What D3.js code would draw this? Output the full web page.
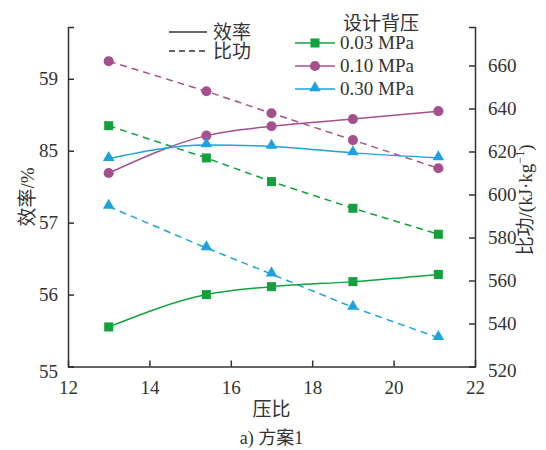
<!DOCTYPE html>
<head>
  <meta charset="utf-8" />
  <script src="https://d3js.org/d3.v7.min.js"></script>
  <style>
    body { margin: 0; background: #fff; }
    text { font-family: "Liberation Serif", "Noto Sans CJK SC", serif; fill: #333; }
  </style>
</head>
<body>
  <div id="chart"></div>
  <script>
    // donnees
    const pressureRatio = [13, 15.4, 17, 19, 21.1];
    const backPressures = ["0.03 MPa", "0.10 MPa", "0.30 MPa"];
    const efficiency003 = [55.55, 56.0, 56.11, 56.18, 56.28];
    const efficiency010 = [57.69, 58.21, 58.34, 58.44, 58.55];
    const efficiency030 = [57.89, 58.08, 58.06, 57.97, 57.90];
    const work003 = [632, 617, 606, 593.6, 581.5];
    const work010 = [662, 648, 637.8, 625.3, 612.2];
    const work030 = [594.4, 575.1, 563, 547.5, 533.4];
    const xTicks = [12, 14, 16, 18, 20, 22];
    const leftTicks = [55, 56, 57, 58, 59];
    const leftTickLabels = ["55", "56", "57", "85", "59"];
    const rightTicks = [520, 540, 560, 580, 600, 620, 640, 660];

    const width = 546, height = 450;
    const colors = ["#15a03e", "#a4508c", "#1ca3dd"];
    const symbols = [d3.symbolSquare, d3.symbolCircle, d3.symbolTriangle];
    const symSizes = [82, 80, 58];

    const svg = d3.select("#chart").append("svg")
      .attr("width", width)
      .attr("height", height);

    const x = d3.scaleLinear().domain([12, 22]).range([68, 475]);
    const yLeft = d3.scaleLinear().domain([55, 59.72]).range([366.5, 27]);
    const yRight = d3.scaleLinear().domain([520, 677.9]).range([366.5, 27]);

    // axes
    const axisX = svg.append("g")
      .attr("transform", "translate(0," + yLeft(55) + ")")
      .call(d3.axisBottom(x).tickValues(xTicks).tickSizeInner(-6).tickSizeOuter(0).tickPadding(14));

    const axisL = svg.append("g")
      .attr("transform", "translate(" + x(12) + ",0)")
      .call(d3.axisLeft(yLeft).tickValues(leftTicks)
        .tickFormat((d, i) => leftTickLabels[i])
        .tickSizeInner(-6).tickSizeOuter(-6).tickPadding(10));

    const axisR = svg.append("g")
      .attr("transform", "translate(" + x(22) + ",0)")
      .call(d3.axisRight(yRight).tickValues(rightTicks)
        .tickSizeInner(-6).tickSizeOuter(-6).tickPadding(13));

    [axisX, axisL, axisR].forEach(function (a) {
      a.selectAll("path, line").attr("stroke", "#333").attr("stroke-width", 1.5);
      a.selectAll("text").style("font-size", "19px").attr("fill", "#333");
    });
    // 55 et 520 decales comme sur la figure
    axisL.selectAll(".tick").filter(d => d === 55).select("text").attr("dy", "0.6em");
    axisR.selectAll(".tick").filter(d => d === 520).select("text").attr("dy", "0.55em");

    // courbes
    const effSeries = [efficiency003, efficiency010, efficiency030];
    const workSeries = [work003, work010, work030];

    const lineEff = d3.line()
      .x((d, i) => x(pressureRatio[i]))
      .y(d => yLeft(d))
      .curve(d3.curveMonotoneX);
    const lineWork = d3.line()
      .x((d, i) => x(pressureRatio[i]))
      .y(d => yRight(d));

    const plot = svg.append("g");

    workSeries.forEach(function (s, k) {
      plot.append("path").datum(s)
        .attr("d", lineWork)
        .attr("fill", "none")
        .attr("stroke", colors[k])
        .attr("stroke-width", 1.5)
        .attr("stroke-dasharray", "7,5");
    });
    effSeries.forEach(function (s, k) {
      plot.append("path").datum(s)
        .attr("d", lineEff)
        .attr("fill", "none")
        .attr("stroke", colors[k])
        .attr("stroke-width", 1.5);
    });

    function drawMarkers(s, k, scale) {
      plot.append("g").selectAll("path")
        .data(s)
        .join("path")
        .attr("d", d3.symbol().type(symbols[k]).size(symSizes[k]))
        .attr("transform", (d, i) => "translate(" + x(pressureRatio[i]) + "," + (scale(d) + (k === 2 ? -1 : 0)) + ")")
        .attr("fill", colors[k]);
    }
    workSeries.forEach((s, k) => drawMarkers(s, k, yRight));
    effSeries.forEach((s, k) => drawMarkers(s, k, yLeft));

    // legendes
    const leg1 = svg.append("g");
    leg1.append("line").attr("x1", 169).attr("x2", 207).attr("y1", 32).attr("y2", 32)
      .attr("stroke", "#333").attr("stroke-width", 1.5);
    leg1.append("text").attr("x", 213).attr("y", 39).style("font-size", "19px").text("效率");
    leg1.append("line").attr("x1", 169).attr("x2", 207).attr("y1", 51).attr("y2", 51)
      .attr("stroke", "#333").attr("stroke-width", 1.5).attr("stroke-dasharray", "6,4");
    leg1.append("text").attr("x", 213).attr("y", 58).style("font-size", "19px").text("比功");

    const leg2 = svg.append("g");
    leg2.append("text").attr("x", 381).attr("y", 30).attr("text-anchor", "middle")
      .style("font-size", "19px").text("设计背压");
    backPressures.forEach(function (name, k) {
      const yy = 43 + k * 23;
      leg2.append("line").attr("x1", 295).attr("x2", 335).attr("y1", yy).attr("y2", yy)
        .attr("stroke", colors[k]).attr("stroke-width", 1.5);
      leg2.append("path")
        .attr("d", d3.symbol().type(symbols[k]).size(symSizes[k]))
        .attr("transform", "translate(315," + (yy + (k === 2 ? -1 : 0)) + ")")
        .attr("fill", colors[k]);
      leg2.append("text").attr("x", 340).attr("y", yy + 6).style("font-size", "19px").text(name);
    });

    // titres des axes
    svg.append("text").attr("x", x(17)).attr("y", 416).attr("text-anchor", "middle")
      .style("font-size", "19px").text("压比");
    svg.append("text").attr("x", x(17)).attr("y", 444).attr("text-anchor", "middle")
      .style("font-size", "18px").text("a) 方案1");
    svg.append("text")
      .attr("transform", "translate(34,197) rotate(-90)")
      .attr("text-anchor", "middle").style("font-size", "19px").text("效率/%");
    const rt = svg.append("text")
      .attr("transform", "translate(532,200) rotate(-90)")
      .attr("text-anchor", "middle").style("font-size", "19px");
    rt.append("tspan").text("比功/(kJ·kg");
    rt.append("tspan").attr("dy", -8).style("font-size", "12px").text("−1");
    rt.append("tspan").attr("dy", 8).text(")");
  </script>
</body>
